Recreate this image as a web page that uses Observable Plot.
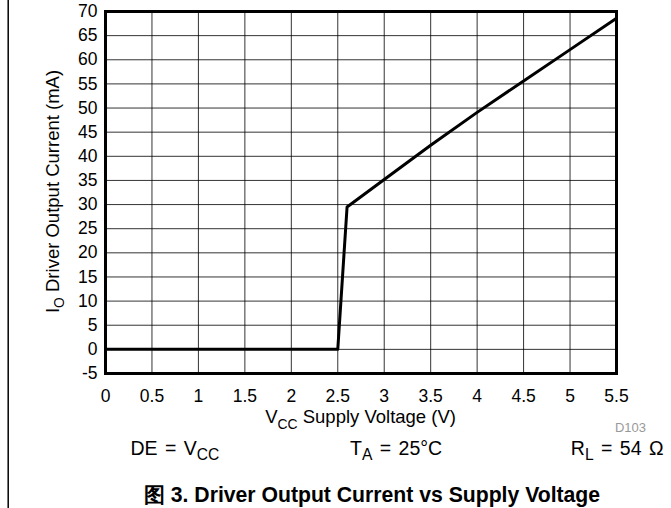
<!DOCTYPE html>
<html>
<head>
<meta charset="utf-8">
<script src="https://cdn.jsdelivr.net/npm/d3@7"></script>
<script src="https://cdn.jsdelivr.net/npm/@observablehq/plot@0.6"></script>
<style>
  body { margin: 0; background: #fff; }
  #chart { width: 671px; height: 508px; }
</style>
</head>
<body>
<div id="chart"></div>
<script>
// Data
const vcc = [0, 2.5, 2.6, 3.0, 3.5, 4.0, 4.5, 5.0, 5.5];        // V
const io  = [0, 0, 29.5, 35.2, 42.3, 49.1, 55.6, 62.1, 68.6];   // mA
const xTicks = [0, 0.5, 1, 1.5, 2, 2.5, 3, 3.5, 4, 4.5, 5, 5.5];
const yTicks = [-5, 0, 5, 10, 15, 20, 25, 30, 35, 40, 45, 50, 55, 60, 65, 70];

const data = vcc.map((v, i) => ({v, i: io[i]}));
const font = "'Liberation Sans', Arial, sans-serif";

const chart = Plot.plot({
  width: 671,
  height: 508,
  marginLeft: 105,
  marginRight: 55,
  marginTop: 11,
  marginBottom: 135,
  style: {fontFamily: font, fontSize: "17.5px", color: "#000", background: "#fff"},
  x: {domain: [0, 5.5]},
  y: {domain: [-5, 70]},
  marks: [
    Plot.gridX(xTicks, {stroke: "#000", strokeOpacity: 0.8, strokeWidth: 1}),
    Plot.gridY(yTicks, {stroke: "#000", strokeOpacity: 0.8, strokeWidth: 1}),
    Plot.axisX(xTicks, {tickSize: 0, tickPadding: 16, tickFormat: d => String(d), label: null, fontSize: 17.5}),
    Plot.axisY(yTicks, {tickSize: 0, tickPadding: 8, tickFormat: d => String(d), label: null, fontSize: 17.5}),
    Plot.line(data, {x: "v", y: "i", stroke: "#000", strokeWidth: 3}),
    Plot.frame({stroke: "#000", strokeWidth: 3})
  ]
});
document.getElementById("chart").appendChild(chart);

const svg = d3.select(chart);
// page border line on the left
svg.append("line").attr("x1", 8.2).attr("x2", 8.2).attr("y1", 0).attr("y2", 508)
  .attr("stroke", "#000").attr("stroke-width", 1.5);

function sub(t, main, subText, rest, size, scale = 0.75) {
  t.append("tspan").text(main);
  t.append("tspan").attr("font-size", size * scale).attr("dy", size * 0.3).text(subText);
  if (rest) t.append("tspan").attr("dy", -size * 0.3).text(rest);
}

// x-axis label
{
  const s = 18.5;
  const t = svg.append("text").attr("x", 360.6).attr("y", 423).attr("text-anchor", "middle")
    .attr("font-family", font).attr("font-size", s).attr("fill", "#000");
  sub(t, "V", "CC", " Supply Voltage (V)", s);
}
// y-axis label
{
  const s = 18.5;
  const t = svg.append("text").attr("transform", "translate(58.5,191.5) rotate(-90)")
    .attr("text-anchor", "middle")
    .attr("font-family", font).attr("font-size", s).attr("fill", "#000");
  sub(t, "I", "O", " Driver Output Current (mA)", s);
}
// D103 tag
svg.append("text").attr("x", 646).attr("y", 432).attr("text-anchor", "end")
  .attr("font-family", font).attr("font-size", 13).attr("fill", "#999").text("D103");

// condition annotations
{
  const s = 19.5;
  const mk = (x, anchor) => svg.append("text").attr("x", x).attr("y", 454.5)
    .attr("text-anchor", anchor).attr("word-spacing", 2)
    .attr("font-family", font).attr("font-size", s).attr("fill", "#000");
  sub(mk(130.5, "start"), "DE = V", "CC", null, s, 0.8);
  sub(mk(350, "start"), "T", "A", " = 25°C", s, 0.8);
  sub(mk(663.5, "end"), "R", "L", " = 54 Ω", s, 0.8);
}
// figure title
svg.append("text").attr("x", 372).attr("y", 501.7).attr("text-anchor", "middle")
  .attr("font-family", font).attr("font-size", 21.2).attr("font-weight", "bold").attr("fill", "#000")
  .text("图 3. Driver Output Current vs Supply Voltage");
</script>
</body>
</html>
